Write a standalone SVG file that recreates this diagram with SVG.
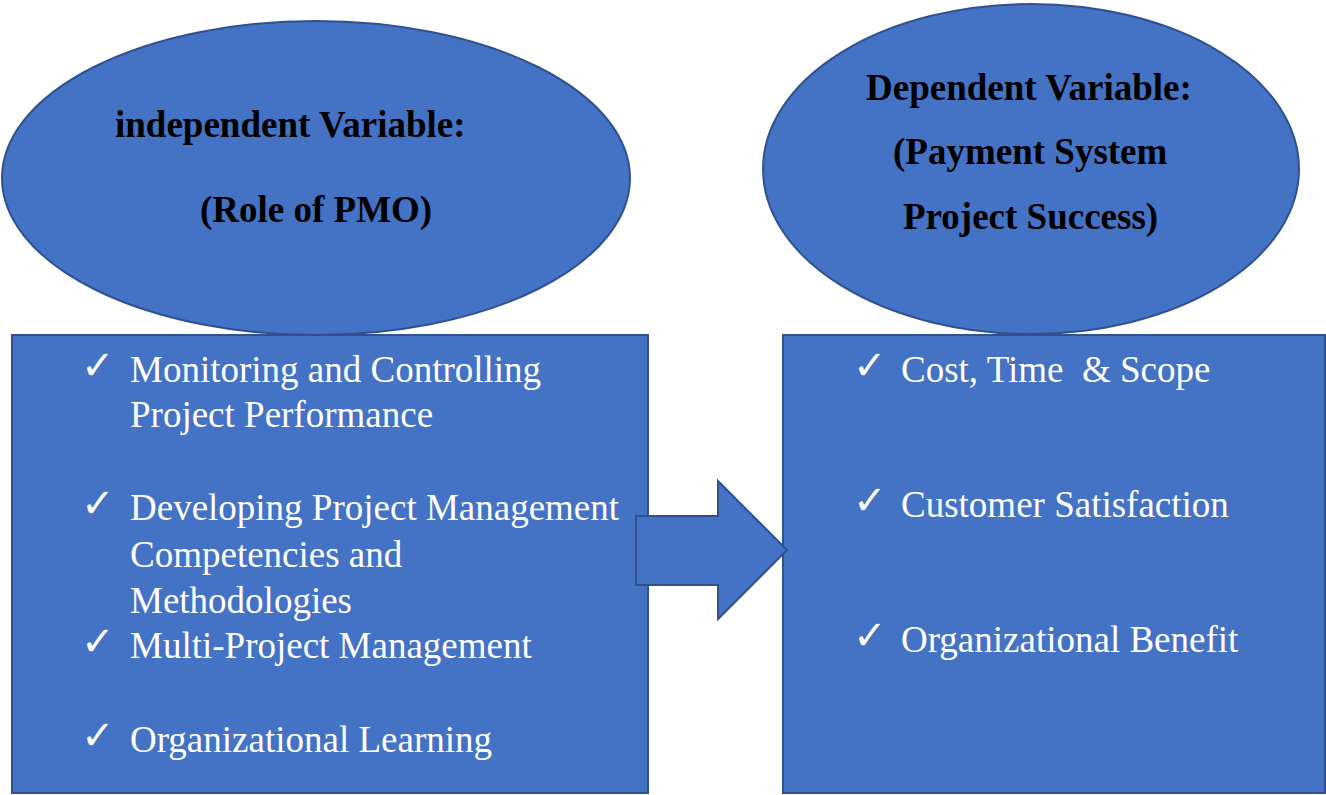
<svg xmlns="http://www.w3.org/2000/svg" width="1326" height="795" viewBox="0 0 1326 795">
<style>
.shape{fill:#4472C4;stroke:#2F528F;stroke-width:2}
.title{font-family:"Liberation Serif","Times New Roman",serif;font-weight:bold;font-size:37px;fill:#000}
.item{font-family:"Liberation Serif","Times New Roman",serif;font-size:37px;fill:#fff;white-space:pre}
.chk{font-family:"DejaVu Sans",sans-serif;font-size:40px;fill:#fff}
</style>
<rect width="1326" height="795" fill="#fff"/>
<g id="iv-ellipse">
<ellipse class="shape" cx="316" cy="178" rx="314" ry="157"/>
<text class="title" x="115" y="137">independent Variable:</text>
<text class="title" x="200" y="222">(Role of PMO)</text>
</g>
<g id="dv-ellipse">
<ellipse class="shape" cx="1031" cy="169" rx="268" ry="165"/>
<text class="title" x="866" y="100">Dependent Variable:</text>
<text class="title" x="893" y="164">(Payment System</text>
<text class="title" x="903" y="229">Project Success)</text>
</g>
<g id="iv-box">
<rect class="shape" x="12" y="335" width="636" height="458"/>
<text class="chk" x="81" y="379">✓</text>
<text class="item" x="130" y="382">Monitoring and Controlling</text>
<text class="item" x="130" y="427">Project Performance</text>
<text class="chk" x="81" y="517">✓</text>
<text class="item" x="130" y="520">Developing Project Management</text>
<text class="item" x="130" y="567">Competencies and</text>
<text class="item" x="130" y="613">Methodologies</text>
<text class="chk" x="81" y="655">✓</text>
<text class="item" x="130" y="658">Multi-Project Management</text>
<text class="chk" x="81" y="749">✓</text>
<text class="item" x="130" y="752">Organizational Learning</text>
</g>
<g id="dv-box">
<rect class="shape" x="783" y="335" width="542" height="458"/>
<text class="chk" x="853" y="379">✓</text>
<text class="item" x="901" y="382" xml:space="preserve">Cost, Time  &amp; Scope</text>
<text class="chk" x="853" y="514">✓</text>
<text class="item" x="901" y="517">Customer Satisfaction</text>
<text class="chk" x="853" y="649">✓</text>
<text class="item" x="901" y="652">Organizational Benefit</text>
</g>
<g id="connectors">
<polygon class="shape" points="636,516 718,516 718,481 787,550 718,619 718,585 636,585"/>
</g>
</svg>
